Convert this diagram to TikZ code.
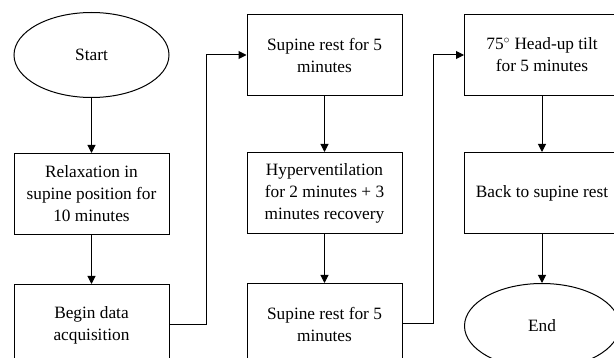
\documentclass[tikz,border=0pt]{standalone}
\usepackage{fontspec}
\setmainfont{Liberation Serif}
\usetikzlibrary{arrows.meta, positioning, shapes.geometric}

\begin{document}
\begin{tikzpicture}[
  x=1pt, y=1pt,
  font=\fontsize{17.3}{22}\selectfont,
  stepbox/.style={draw, rectangle, line width=1pt, minimum width=155pt,
                  minimum height=81pt, inner sep=0pt, align=center},
  term/.style={draw, ellipse, line width=1pt, minimum width=155pt,
               minimum height=85pt, inner sep=0pt},
  arr/.style={-{Triangle[length=8pt, width=8pt]}, line width=1pt}
]
  \fill[white] (0,0) rectangle (614,-358);
  \useasboundingbox (0,0) rectangle (614,-358);

  % first column
  \node[term] (start) at (91.5,-55) {Start};
  \node[stepbox, below=55pt of start] (relax) {Relaxation in\\supine position for\\10 minutes};
  \node[stepbox, below=49pt of relax] (acq) {Begin data\\acquisition};

  % second column
  \node[stepbox, right=77pt of start] (rest1) {Supine rest for 5\\minutes};
  \node[stepbox, below=56pt of rest1] (hyper) {Hyperventilation\\for 2 minutes + 3\\minutes recovery};
  \node[stepbox, below=49pt of hyper] (rest2) {Supine rest for 5\\minutes};

  % third column
  \node[stepbox, right=61.5pt of rest1] (tilt) {75$^{\circ}$ Head-up tilt\\for 5 minutes};
  \node[stepbox, below=56pt of tilt] (back) {Back to supine rest};
  \node[term, below=49pt of back] (stop) {End};

  \draw[arr] (start) -- (relax);
  \draw[arr] (relax) -- (acq);
  \draw[arr] (acq.east) -- ++(37,0) |- (rest1.west);
  \draw[arr] (rest1) -- (hyper);
  \draw[arr] (hyper) -- (rest2);
  \draw[arr] (rest2.east) -- ++(31,0) |- (tilt.west);
  \draw[arr] (tilt) -- (back);
  \draw[arr] (back) -- (stop);
\end{tikzpicture}
\end{document}
